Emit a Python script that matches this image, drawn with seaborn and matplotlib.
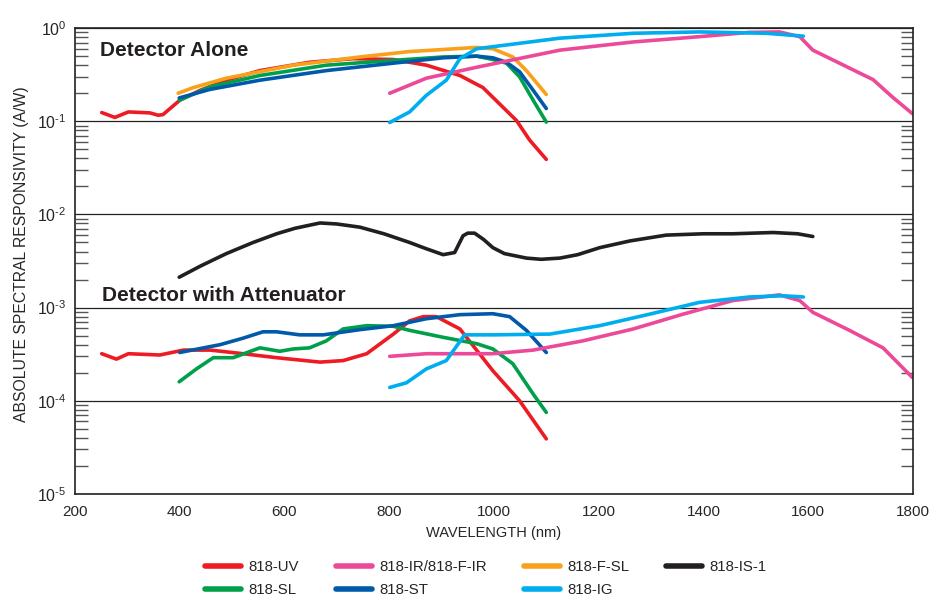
import numpy as np
import pandas as pd
import matplotlib
matplotlib.use('Agg')
from matplotlib import pyplot as plt
from matplotlib.lines import Line2D
from matplotlib.ticker import FuncFormatter
import seaborn as sns

# ---- detector alone (A/W) ----
uv_wl = [251, 276, 302, 343, 359, 368, 400, 439, 489, 553, 648, 731, 808, 871, 935, 979, 1043, 1068, 1100]
uv_val = [0.124, 0.11, 0.126, 0.123, 0.116, 0.118, 0.168, 0.215, 0.276, 0.35, 0.43, 0.47, 0.46, 0.40, 0.31, 0.23, 0.102, 0.063, 0.039]

fsl_wl = [397, 426, 489, 617, 744, 839, 967, 998, 1036, 1062, 1100]
fsl_val = [0.20, 0.23, 0.29, 0.40, 0.49, 0.56, 0.62, 0.60, 0.49, 0.35, 0.194]

sl_wl = [399, 458, 553, 680, 807, 903, 967, 998, 1024, 1049, 1075, 1100]
sl_val = [0.168, 0.234, 0.31, 0.40, 0.45, 0.49, 0.50, 0.46, 0.42, 0.30, 0.168, 0.098]

st_wl = [399, 458, 553, 680, 807, 903, 967, 998, 1024, 1049, 1075, 1100]
st_val = [0.178, 0.22, 0.276, 0.35, 0.42, 0.48, 0.50, 0.48, 0.43, 0.34, 0.215, 0.137]

ir_wl = [801, 871, 967, 1126, 1266, 1393, 1488, 1545, 1584, 1609, 1660, 1724, 1762, 1799]
ir_val = [0.20, 0.29, 0.38, 0.58, 0.71, 0.81, 0.90, 0.91, 0.81, 0.58, 0.42, 0.28, 0.18, 0.121]

ig_wl = [801, 839, 871, 909, 935, 967, 1126, 1266, 1393, 1520, 1591]
ig_val = [0.097, 0.126, 0.19, 0.276, 0.47, 0.60, 0.78, 0.88, 0.91, 0.88, 0.82]

is1_wl = [399, 440, 489, 540, 585, 620, 668, 700, 744, 790, 839, 870, 903, 925, 941, 950, 963, 980, 998,
          1020, 1062, 1090, 1126, 1160, 1202, 1260, 1329, 1400, 1456, 1533, 1580, 1609]
is1_val = [0.00212, 0.0028, 0.0038, 0.0050, 0.0062, 0.0071, 0.0081, 0.0079, 0.0073, 0.0062, 0.0050, 0.0043,
           0.0037, 0.0039, 0.0059, 0.0063, 0.0063, 0.0054, 0.0044, 0.0038, 0.0034, 0.0033, 0.0034, 0.0037,
           0.0044, 0.0052, 0.0060, 0.0062, 0.0062, 0.0064, 0.0062, 0.0058]

# ---- detector with attenuator (A/W) ----
uv_att_wl = [251, 279, 302, 362, 407, 458, 521, 585, 668, 712, 757, 808, 839, 865, 890, 935, 998, 1049, 1100]
uv_att_val = [0.00032, 0.00028, 0.00032, 0.00031, 0.00035, 0.00035, 0.00032, 0.00029, 0.00026, 0.00027,
              0.00032, 0.00052, 0.00072, 0.0008, 0.0008, 0.00059, 0.00021, 0.0001, 0.000039]

sl_att_wl = [399, 432, 464, 502, 553, 591, 617, 648, 680, 712, 757, 808, 839, 903, 967, 998, 1036, 1075, 1100]
sl_att_val = [0.00016, 0.00022, 0.00029, 0.00029, 0.00037, 0.00034, 0.00036, 0.00037, 0.00044, 0.00059,
              0.00064, 0.00063, 0.00057, 0.00048, 0.00041, 0.00036, 0.00025, 0.000118, 0.000075]

st_att_wl = [400, 477, 521, 559, 585, 629, 674, 744, 808, 871, 935, 998, 1030, 1062, 1100]
st_att_val = [0.00033, 0.0004, 0.00047, 0.00055, 0.00055, 0.00051, 0.00051, 0.00058, 0.00064, 0.00076,
              0.00084, 0.00086, 0.0008, 0.00057, 0.00033]

ir_att_wl = [801, 871, 998, 1075, 1170, 1266, 1361, 1456, 1545, 1584, 1609, 1679, 1743, 1799]
ir_att_val = [0.0003, 0.00032, 0.00032, 0.00035, 0.00044, 0.00059, 0.00085, 0.00119, 0.00137, 0.00119,
              0.00089, 0.00057, 0.00037, 0.000178]

ig_att_wl = [801, 833, 871, 909, 944, 998, 1107, 1202, 1297, 1393, 1488, 1552, 1591]
ig_att_val = [0.000139, 0.000156, 0.00022, 0.00027, 0.00051, 0.00051, 0.00052, 0.00064, 0.00085, 0.00114,
              0.0013, 0.00134, 0.0013]

colors = {
    '818-UV': '#ED1C24',
    '818-IR/818-F-IR': '#EC4A98',
    '818-F-SL': '#F8A21C',
    '818-IS-1': '#231F20',
    '818-SL': '#00A04B',
    '818-ST': '#0059A9',
    '818-IG': '#00AEEF',
}

series = [
    ('818-UV', uv_wl, uv_val), ('818-F-SL', fsl_wl, fsl_val), ('818-SL', sl_wl, sl_val),
    ('818-ST', st_wl, st_val), ('818-IR/818-F-IR', ir_wl, ir_val), ('818-IG', ig_wl, ig_val),
    ('818-IS-1', is1_wl, is1_val),
    ('818-UV', uv_att_wl, uv_att_val), ('818-SL', sl_att_wl, sl_att_val), ('818-ST', st_att_wl, st_att_val),
    ('818-IR/818-F-IR', ir_att_wl, ir_att_val), ('818-IG', ig_att_wl, ig_att_val),
]

sns.set_style('white')
plt.rcParams['font.family'] = ['Liberation Sans', 'DejaVu Sans']

fig = plt.figure(figsize=(9.33, 5.98), dpi=100)
ax = fig.add_axes([0.0804, 0.174, 0.898, 0.779])

for name, wl, val in series:
    df = pd.DataFrame({'wl': wl, 'val': val})
    sns.lineplot(data=df, x='wl', y='val', ax=ax, color=colors[name], lw=2.6,
                 estimator=None, sort=False, legend=False)

ax.set_yscale('log')
ax.set_xlim(200, 1800)
ax.set_ylim(1e-5, 1)
ax.set_xticks(np.arange(200, 1801, 200))
ax.yaxis.set_major_formatter(FuncFormatter(
    lambda v, p: '10$^{\\mathregular{%d}}$' % round(np.log10(v)) if round(np.log10(v)) == 0
    else '10$^{\\mathregular{\u2010%d}}$' % abs(round(np.log10(v)))))
ax.yaxis.grid(True, which='major', color='#222222', lw=0.9)
ax.xaxis.grid(False)
for s in ax.spines.values():
    s.set_color('#222222')
    s.set_linewidth(1.2)
ax.tick_params(axis='x', length=0, labelsize=11, pad=8)
ax.tick_params(axis='y', which='major', length=0, labelsize=11.5, pad=6)
ax.tick_params(axis='y', which='minor', direction='in', length=9, width=1.0, color='#555555',
               left=True, right=True)
ax.set_xlabel('WAVELENGTH (nm)', fontsize=10.5, labelpad=5)
ax.set_ylabel('ABSOLUTE SPECTRAL RESPONSIVITY (A/W)', fontsize=11.3)
ax.yaxis.set_label_coords(-0.055, 0.515)

ax.text(248, 0.58, 'Detector Alone', fontsize=15, fontweight='bold',
        color='#231F20', va='center')
ax.text(251, 1.35e-3, 'Detector with Attenuator', fontsize=15, fontweight='bold',
        color='#231F20', va='center')

order = ['818-UV', '818-SL', '818-IR/818-F-IR', '818-ST', '818-F-SL', '818-IG', '818-IS-1']
handles = [Line2D([0], [0], color=colors[n], lw=4) for n in order]
fig.legend(handles, order, loc='center', bbox_to_anchor=(0.521, 0.033), ncol=4, frameon=False,
           fontsize=10.8, handlelength=2.4, handletextpad=0.5, columnspacing=2.45, labelspacing=0.6)

fig.savefig('out.png', dpi=100)
